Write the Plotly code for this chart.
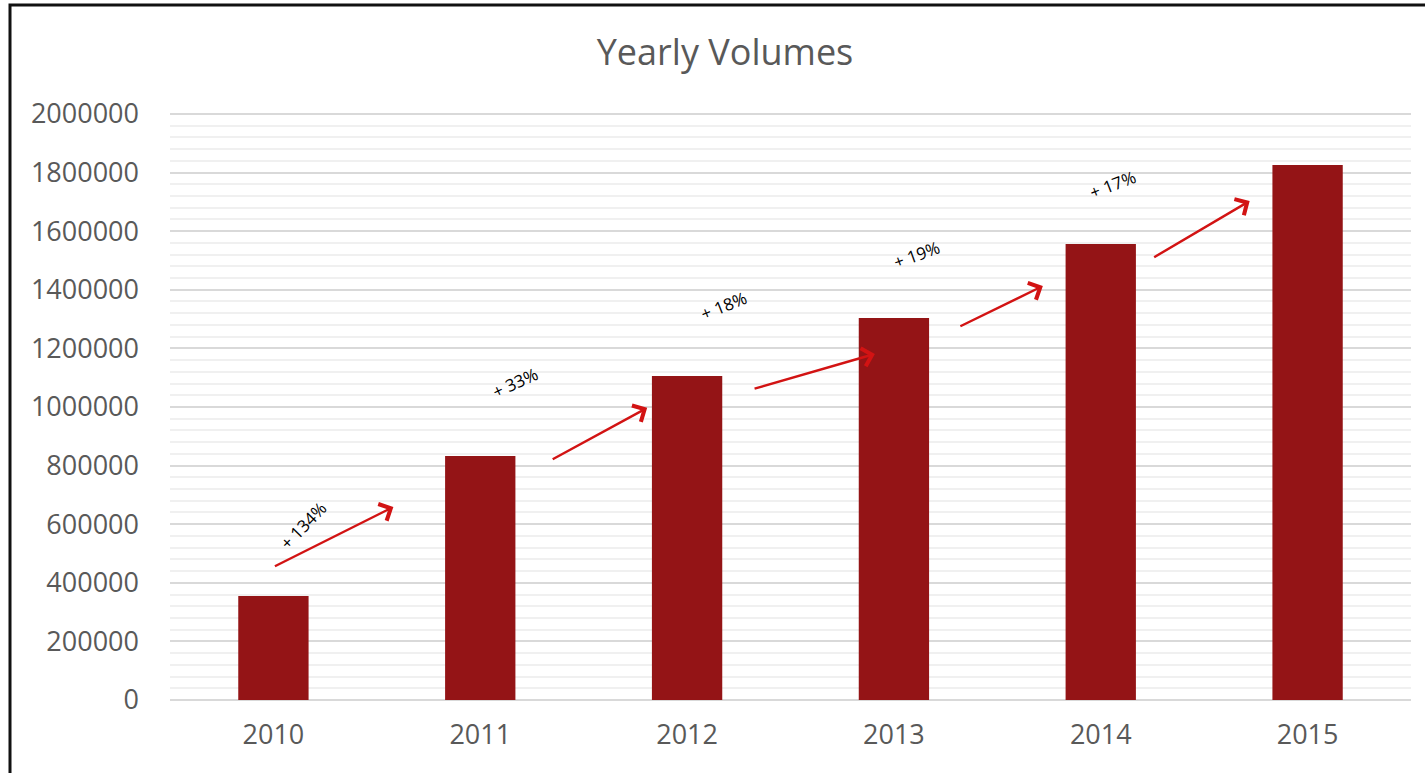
import plotly.graph_objects as go

years = ["2010", "2011", "2012", "2013", "2014", "2015"]
volumes = [355000, 833000, 1106000, 1304000, 1556000, 1826000]
growth_labels = ["+ 134%", "+ 33%", "+ 18%", "+ 19%", "+ 17%"]

# annotation layout (positions in axis units: category index, value)
arrow_tails = [(0.0, 454000), (1.343, 819000), (2.319, 1061000), (3.314, 1273000), (4.251, 1508000)]
arrow_heads = [(0.58, 659000), (1.807, 997000), (2.908, 1181000), (3.72, 1413000), (4.72, 1703000)]
label_pos = [(0.145, 594000), (1.169, 1085000), (2.179, 1345000), (3.111, 1519000), (4.058, 1758000)]
label_angles = [-46, -25, -22, -20, -21]

FONT = "Open Sans"
GRAY = "#595959"

W, H = 1425, 773
L, R, T, B = 170, 14, 111, 73
PH = H - T - B

fig = go.Figure()
fig.add_trace(go.Bar(
    x=list(range(len(years))), y=volumes,
    marker=dict(color="#941416", line=dict(width=0)),
    width=0.34,
    hoverinfo="x+y",
))

annotations = []
for (tx, ty), (hx, hy) in zip(arrow_tails, arrow_heads):
    annotations.append(dict(
        x=hx, y=hy, xref="x", yref="y",
        ax=tx, ay=ty, axref="x", ayref="y",
        showarrow=True, arrowhead=4, arrowsize=1.5, arrowwidth=2.4,
        arrowcolor="#D21313", text="", standoff=0, startstandoff=0,
    ))
for txt, (lx, ly), ang in zip(growth_labels, label_pos, label_angles):
    annotations.append(dict(
        x=lx, y=ly, xref="x", yref="y", text=txt, showarrow=False,
        textangle=ang, font=dict(family=FONT, size=17, color="#000000"),
        xanchor="center", yanchor="middle",
    ))

fig.update_layout(
    width=W, height=H,
    margin=dict(l=L, r=R, t=T, b=B),
    paper_bgcolor="white", plot_bgcolor="white",
    showlegend=False,
    bargap=0.66,
    title=dict(text="Yearly Volumes", x=725 / W, xref="container", xanchor="center",
               y=1 - 52 / H, yref="container", yanchor="middle",
               font=dict(family=FONT, size=36, color=GRAY)),
    annotations=annotations,
    shapes=[dict(type="rect", xref="paper", yref="paper",
                 x0=(10 - L) / (W - L - R), x1=1.2, y0=-0.5, y1=1 + (T - 5) / PH,
                 line=dict(color="#111111", width=3), layer="above")],
)

fig.update_xaxes(
    range=[-0.5, 5.5], tickmode="array", tickvals=list(range(len(years))), ticktext=years,
    showgrid=False, zeroline=False, showline=False, ticks="",
    tickfont=dict(family=FONT, size=27, color=GRAY),
    ticklabelstandoff=16,
)
fig.update_yaxes(
    range=[0, 2010000], tick0=0, dtick=200000, tickformat="d",
    showgrid=True, gridcolor="#d9d9d9", gridwidth=1.5,
    minor=dict(tick0=0, dtick=40000, showgrid=True, gridcolor="#f0f0f0", gridwidth=1.5),
    zeroline=True, zerolinecolor="#d9d9d9", zerolinewidth=1.5,
    showline=False, ticks="",
    tickfont=dict(family=FONT, size=27, color=GRAY),
    ticklabelstandoff=30,
)

fig.write_html("out.html", config={"displayModeBar": False},
               post_script="document.body.style.margin='0';document.body.style.overflow='hidden';")
